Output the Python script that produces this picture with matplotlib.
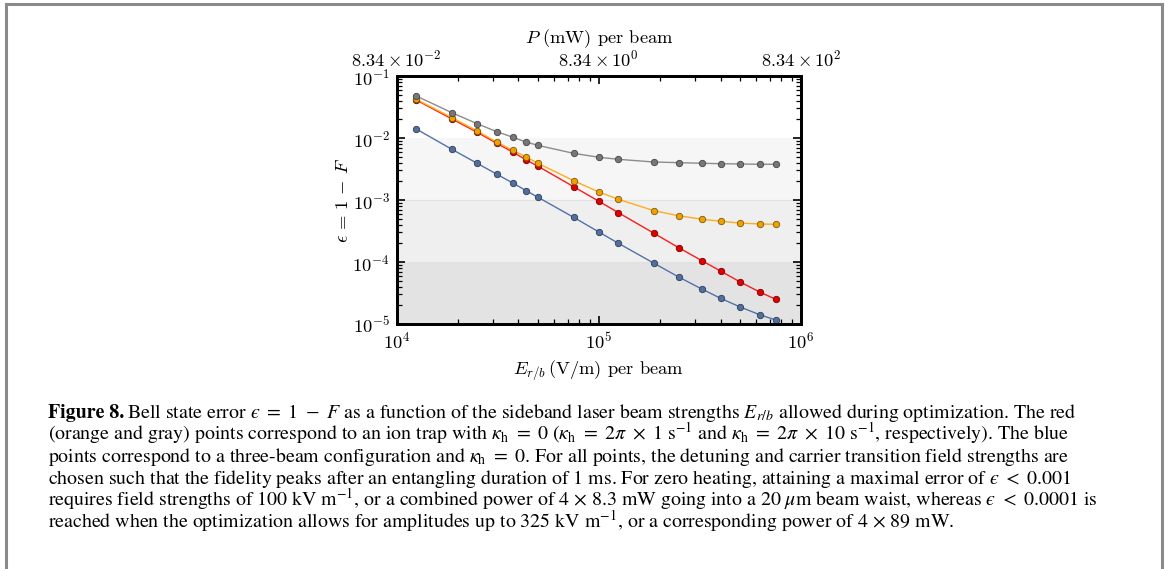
import numpy as np
import matplotlib
matplotlib.use("Agg")
import matplotlib.pyplot as plt
from matplotlib.ticker import LogLocator, NullFormatter, FixedLocator, FixedFormatter

plt.rcParams['mathtext.fontset'] = 'cm'
plt.rcParams['font.family'] = 'serif'
plt.rcParams['font.serif'] = ['cmr10', 'DejaVu Serif']
plt.rcParams['axes.formatter.use_mathtext'] = True

# ---------------- data ----------------
E_field = [12500, 18750, 25000, 31250, 37500, 43750, 50000, 75000, 100000,
           125000, 187500, 250000, 325000, 400000, 500000, 625000, 750000]
err_gray = [0.0476, 0.0256, 0.0170, 0.01265, 0.0103, 0.0086, 0.0076, 0.00566,
            0.00489, 0.00453, 0.00410, 0.00400, 0.00391, 0.00385, 0.00381,
            0.00377, 0.00377]
err_orange = [0.0421, 0.0213, 0.0130, 0.0086, 0.00634, 0.00493, 0.00391,
              0.00205, 0.001345, 0.001025, 0.000672, 0.000555, 0.000489,
              0.000453, 0.000425, 0.000410, 0.000406]
err_red = [0.0410, 0.0203, 0.01236, 0.00821, 0.00594, 0.00442, 0.00350,
           0.00164, 0.000953, 0.000624, 0.000290, 0.000168, 0.000104,
           7.16e-5, 4.76e-5, 3.28e-5, 2.50e-5]
err_blue = [0.01396, 0.00657, 0.00391, 0.00261, 0.00188, 0.00141, 0.001106,
            0.000526, 0.000305, 0.000200, 9.53e-5, 5.66e-5, 3.63e-5,
            2.60e-5, 1.88e-5, 1.41e-5, 1.16e-5]
top_tick_E = [1e4, 1e5, 1e6]
top_tick_labels = [r'$8.34\times10^{-2}$', r'$8.34\times10^{0}$', r'$8.34\times10^{2}$']
band_edges = [1e-5, 1e-4, 1e-3, 1e-2]
band_colors = ['#e3e3e3', '#efefef', '#f6f6f6']

caption_lines = [
    r"Bell state error $ϵ\ =\ 1\ -\ F$ as a function of the sideband laser beam strengths $E_{r/b}$ allowed during optimization. The red",
    r"(orange and gray) points correspond to an ion trap with $\kappa_{\mathrm{h}}\ =\ 0$ ($\kappa_{\mathrm{h}}\ =\ 2\pi\ \times\ 1\ \mathrm{s}^{-1}$ and $\kappa_{\mathrm{h}}\ =\ 2\pi\ \times\ 10\ \mathrm{s}^{-1}$, respectively). The blue",
    r"points correspond to a three-beam configuration and $\kappa_{\mathrm{h}}\ =\ 0$. For all points, the detuning and carrier transition field strengths are",
    r"chosen such that the fidelity peaks after an entangling duration of 1 ms. For zero heating, attaining a maximal error of $ϵ\ <\ 0.001$",
    r"requires field strengths of 100 kV m$^{-1}$, or a combined power of 4 $\times$ 8.3 mW going into a 20 $\mu$m beam waist, whereas $ϵ\ <\ 0.0001$ is",
    r"reached when the optimization allows for amplitudes up to 325 kV m$^{-1}$, or a corresponding power of 4 $\times$ 89 mW.",
]

# ---------------- figure ----------------
fig = plt.figure(figsize=(11.65, 5.69), dpi=100)
ax = fig.add_axes([396.7 / 1165, 1 - 324 / 569, (801 - 396.7) / 1165, (324 - 76) / 569])

for lo, hi, c in zip(band_edges[:-1], band_edges[1:], band_colors):
    ax.axhspan(lo, hi, color=c, zorder=0, lw=0)
for y in band_edges[1:3]:
    ax.axhline(y, color='#e2e2e2', lw=0.8, zorder=0.5)

series = [
    (err_blue, '#5272a6', '#546e9c', '#2c3e5c'),
    (err_red, '#ff1a1a', '#e00000', '#7a0000'),
    (err_orange, '#ffad1a', '#f0a000', '#7a5a10'),
    (err_gray, '#8c8c8c', '#777777', '#454545'),
]
for vals, lc, fc, ec in series:
    ax.plot(E_field, vals, '-', color=lc, lw=1.0, zorder=2)
    ax.plot(E_field, vals, 'o', ms=4.6, mfc=fc, mec=ec, mew=0.6, zorder=3)

ax.set_xscale('log')
ax.set_yscale('log')
ax.set_xlim(1e4, 1e6)
ax.set_ylim(1e-5, 1e-1)

for s in ax.spines.values():
    s.set_linewidth(2.0)

ax.xaxis.set_major_locator(LogLocator(base=10, numticks=10))
ax.xaxis.set_minor_locator(LogLocator(base=10, subs=np.arange(2, 10), numticks=20))
ax.yaxis.set_major_locator(LogLocator(base=10, numticks=10))
ax.yaxis.set_minor_locator(LogLocator(base=10, subs=np.arange(2, 10), numticks=20))
ax.xaxis.set_minor_formatter(NullFormatter())
ax.yaxis.set_minor_formatter(NullFormatter())
ax.tick_params(which='major', direction='in', length=6, width=1.2, labelsize=13.3,
               right=True, top=False, pad=5)
ax.tick_params(which='minor', direction='in', length=3.5, width=0.9, right=True, top=False)

ax.set_xlabel(r'$E_{r/b}\,(\mathrm{V/m})$ per beam', fontsize=13.3, labelpad=5)
ax.set_ylabel(r'$\epsilon\,=\,1\,-\,F$', fontsize=13.3, labelpad=1)

# top axis (power)
tx = ax.twiny()
tx.set_xscale('log')
tx.set_xlim(1e4, 1e6)
tx.xaxis.set_major_locator(FixedLocator(top_tick_E))
tx.xaxis.set_major_formatter(FixedFormatter(top_tick_labels))
tx.xaxis.set_minor_locator(LogLocator(base=10, subs=np.arange(2, 10), numticks=20))
tx.xaxis.set_minor_formatter(NullFormatter())
tx.tick_params(which='major', direction='in', length=6, width=1.2, labelsize=13.3, pad=5)
tx.tick_params(which='minor', direction='in', length=3.5, width=0.9)
tx.set_xlabel(r'$P\ (\mathrm{mW})$ per beam', fontsize=13.3, labelpad=4)
for s in tx.spines.values():
    s.set_linewidth(2.0)

# frame around figure
fig.add_artist(plt.Line2D([5.5 / 1165, 5.5 / 1165], [0, 1 - 3.5 / 569], color='#8a8a8a', lw=2.2,
                          transform=fig.transFigure))
fig.add_artist(plt.Line2D([5.5 / 1165, 1161.5 / 1165], [1 - 3.5 / 569, 1 - 3.5 / 569], color='#8a8a8a',
                          lw=2.2, transform=fig.transFigure))
fig.add_artist(plt.Line2D([1161.5 / 1165, 1161.5 / 1165], [0, 1 - 3.5 / 569], color='#8a8a8a', lw=2.2,
                          transform=fig.transFigure))

# caption
cap_kw = dict(fontsize=14.3, family='STIXGeneral', math_fontfamily='stix', va='baseline', ha='left')
y0 = 418
dy = 22
t = fig.text(48 / 1165, 1 - y0 / 569, 'Figure 8.', fontweight='bold', **cap_kw)
fig.canvas.draw()
bb = t.get_window_extent()
fig.text((bb.x1 + 3) / 1165, 1 - y0 / 569, caption_lines[0], **cap_kw)
for i, line in enumerate(caption_lines[1:], start=1):
    fig.text(48 / 1165, 1 - (y0 + i * dy) / 569, line, **cap_kw)

fig.savefig('out.png', dpi=100)
